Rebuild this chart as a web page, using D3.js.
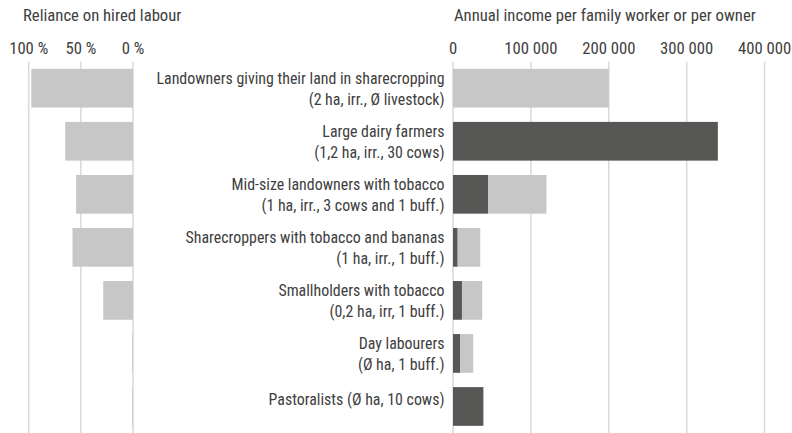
<!DOCTYPE html>
<html><head><meta charset="utf-8">
<script src="https://cdn.jsdelivr.net/npm/d3@7"></script>
<style>
html,body{margin:0;padding:0;background:#fff;}
text{font-family:"Roboto Condensed","Liberation Sans Narrow","Arial Narrow","DejaVu Sans Condensed",sans-serif;font-stretch:condensed;font-weight:400;fill:#404040;}
</style></head><body>
<svg id="chart" width="792" height="433"></svg>
<script>
const categories = [
  ["Landowners giving their land in sharecropping", "(2 ha, irr., Ø livestock)"],
  ["Large dairy farmers", "(1,2 ha, irr., 30 cows)"],
  ["Mid-size landowners with tobacco", "(1 ha, irr., 3 cows and 1 buff.)"],
  ["Sharecroppers with tobacco and bananas", "(1 ha, irr., 1 buff.)"],
  ["Smallholders with tobacco", "(0,2 ha, irr, 1 buff.)"],
  ["Day labourers", "(Ø ha, 1 buff.)"],
  ["Pastoralists (Ø ha, 10 cows)"]
];
const hiredLabourShare = [97.5, 65, 54.5, 58, 28.5, 0.6, 0.6];
const incomePerFamilyWorker = [0, 340000, 45000, 6000, 11500, 9000, 39000];
const incomePerOwnerExtra = [200000, 0, 75000, 29000, 26000, 17000, 0];
const leftTicks = [100, 50, 0];
const leftTickLabels = ["100 %", "50 %", "0 %"];
const rightTicks = [0, 100000, 200000, 300000, 400000];
const rightTickLabels = ["0", "100 000", "200 000", "300 000", "400 000"];
const leftTitle = "Reliance on hired labour";
const rightTitle = "Annual income per family worker or per owner";

const svg = d3.select("#chart");
const plotTop = 61.7, plotBottom = 433;
const fsLabel = 15.9, fsAxis = 16.7;
const grid = "#d9d9d9", light = "#c6c7c6", dark = "#575756";

const y = d3.scaleBand().domain(d3.range(categories.length)).range([plotTop, plotBottom])
  .paddingInner(0.27).paddingOuter(0.135);
const xl = d3.scaleLinear().domain([0, 100]).range([133, 28.7]);
const xr = d3.scaleLinear().domain([0, 400000]).range([453, 764.6]);

svg.append("g").selectAll("line").data(leftTicks).join("line")
  .attr("x1", d => xl(d)).attr("x2", d => xl(d)).attr("y1", plotTop).attr("y2", plotBottom)
  .attr("stroke", grid).attr("stroke-width", 1.5);
svg.append("g").selectAll("line").data(rightTicks).join("line")
  .attr("x1", d => xr(d)).attr("x2", d => xr(d)).attr("y1", plotTop).attr("y2", plotBottom)
  .attr("stroke", grid).attr("stroke-width", 1.5);

svg.append("g").selectAll("rect").data(hiredLabourShare).join("rect")
  .attr("x", d => xl(d)).attr("width", d => xl(0) - xl(d))
  .attr("y", (d, i) => y(i)).attr("height", y.bandwidth()).attr("fill", light);

const stackData = categories.map((c, i) => ({i, worker: incomePerFamilyWorker[i], owner: incomePerOwnerExtra[i]}));
const series = d3.stack().keys(["worker", "owner"])(stackData);
const colors = {worker: dark, owner: light};
svg.append("g").selectAll("g").data(series).join("g").attr("fill", s => colors[s.key])
  .selectAll("rect").data(s => s).join("rect")
  .attr("x", d => xr(d[0])).attr("width", d => xr(d[1]) - xr(d[0]))
  .attr("y", d => y(d.data.i)).attr("height", y.bandwidth());

svg.append("g").selectAll("text").data(leftTicks).join("text")
  .attr("x", d => xl(d)).attr("y", 53.5).attr("text-anchor", "middle")
  .style("font-size", fsAxis + "px").text((d, i) => leftTickLabels[i]);
svg.append("g").selectAll("text").data(rightTicks).join("text")
  .attr("x", d => xr(d)).attr("y", 53.5).attr("text-anchor", "middle")
  .style("font-size", fsAxis + "px").text((d, i) => rightTickLabels[i]);

svg.append("text").attr("x", 23).attr("y", 20.5).style("font-size", fsAxis + "px").text(leftTitle);
svg.append("text").attr("x", 454).attr("y", 20.5).style("font-size", fsAxis + "px").text(rightTitle);

const lab = svg.append("g").selectAll("text").data(categories).join("text")
  .attr("text-anchor", "end").style("font-size", fsLabel + "px")
  .attr("transform", (d, i) => `translate(444.5,${y(i) + y.bandwidth() / 2})`);
lab.each(function(lines) {
  const t = d3.select(this);
  if (lines.length === 1) {
    t.append("tspan").attr("x", 0).attr("y", -1).text(lines[0]);
  } else {
    t.append("tspan").attr("x", 0).attr("y", -4).text(lines[0]);
    t.append("tspan").attr("x", 0).attr("y", 17).text(lines[1]);
  }
});
</script>
</body></html>
